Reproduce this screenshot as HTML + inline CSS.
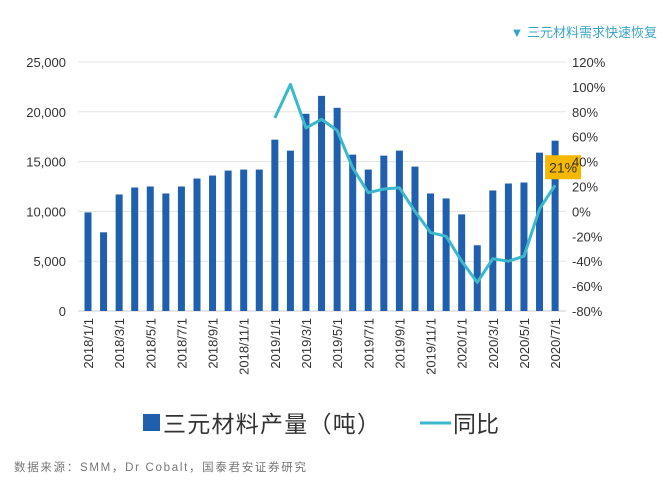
<!DOCTYPE html>
<html><head><meta charset="utf-8"><style>
body{margin:0;background:#fff;}
svg text{font-family:"Liberation Sans","Noto Sans CJK SC",sans-serif;}
</style></head><body>
<svg id="chart" width="665" height="481" xmlns="http://www.w3.org/2000/svg">
<text x="657" y="37" text-anchor="end" font-size="13" fill="#3aa6c6">▼ 三元材料需求快速恢复</text>
<g id="grid"></g><g id="bars"></g><g id="line"></g><g id="axes"></g>
<g>
<rect x="143" y="414" width="17" height="17" fill="#1f5fad"/>
<text x="163" y="432" font-size="23" textLength="217" fill="#333">三元材料产量（吨）</text>
<line x1="420" y1="423" x2="451" y2="423" stroke="#3bb8cc" stroke-width="3"/>
<text x="453" y="432" font-size="23" fill="#333">同比</text>
</g>
<text x="14" y="471" font-size="11.5" textLength="292" fill="#777">数据来源：SMM，Dr Cobalt，国泰君安证券研究</text>
</svg>
<script>
const categories=["2018/1/1","2018/2/1","2018/3/1","2018/4/1","2018/5/1","2018/6/1","2018/7/1","2018/8/1","2018/9/1","2018/10/1","2018/11/1","2018/12/1","2019/1/1","2019/2/1","2019/3/1","2019/4/1","2019/5/1","2019/6/1","2019/7/1","2019/8/1","2019/9/1","2019/10/1","2019/11/1","2019/12/1","2020/1/1","2020/2/1","2020/3/1","2020/4/1","2020/5/1","2020/6/1","2020/7/1"];
const production=[9900,7900,11700,12400,12500,11800,12500,13300,13600,14100,14200,14200,17200,16100,19800,21600,20400,15700,14200,15600,16100,14500,11800,11300,9700,6600,12100,12800,12900,15900,17100];
const yoy=[null,null,null,null,null,null,null,null,null,null,null,null,75,102,67,74,65,35,15,18,19,0,-17,-20,-40,-57,-38,-40,-36,2,21];
const leftTicks=[0,5000,10000,15000,20000,25000];
const rightTicks=[-80,-60,-40,-20,0,20,40,60,80,100,120];
const NS="http://www.w3.org/2000/svg";
const x0=88,dx=15.57,yTop=62,yBot=311;
const xp=i=>x0+i*dx;
const yl=v=>yBot-(v/25000)*(yBot-yTop);
const yr=v=>yBot-((v+80)/200)*(yBot-yTop);
function mk(t,a,p){const e=document.createElementNS(NS,t);for(const k in a)e.setAttribute(k,a[k]);p.appendChild(e);return e;}
const grid=document.getElementById('grid'),bars=document.getElementById('bars'),line=document.getElementById('line'),axes=document.getElementById('axes');
leftTicks.forEach(v=>{
 const g=mk('line',{x1:78,x2:566,y1:yl(v),y2:yl(v),stroke:v===0?'#ccc':'#e3e3e3','stroke-width':1},grid);
 
 
 const t=mk('text',{x:66,y:yl(v)+5,'text-anchor':'end','font-size':13,fill:'#333'},axes);
 t.textContent=v.toLocaleString('en-US');
 
 
});
rightTicks.forEach(v=>{
 const t=mk('text',{x:572,y:yr(v)+5,'font-size':13,fill:'#333'},axes);
 t.textContent=v+'%';
 
 
});
production.forEach((v,i)=>{
 const r=mk('rect',{x:xp(i)-3.5,y:yl(v),width:7,height:yBot-yl(v),fill:'#1f5fad'},bars);
 
 
 if(i%2===0){
  const t=mk('text',{transform:`translate(${xp(i)+5},318) rotate(-90)`,'text-anchor':'end','font-size':13,fill:'#333'},axes);
  t.textContent=categories[i];
  
  
 }
});
let pts=[];yoy.forEach((v,i)=>{if(v!==null)pts.push(xp(i)+','+yr(v));});
const pl=mk('polyline',{points:pts.join(' '),fill:'none',stroke:'#3bb8cc','stroke-width':3,'stroke-linejoin':'round'},line);


const li=yoy.length-1;
const lb=mk('rect',{x:xp(li)-10,y:yr(yoy[li])-30,width:36,height:24,fill:'#f5b800'},line);


const lt=mk('text',{x:xp(li)+8,y:yr(yoy[li])-13,'text-anchor':'middle','font-size':14,fill:'#333'},line);
lt.textContent=yoy[li]+'%';


</script>
</body></html>
